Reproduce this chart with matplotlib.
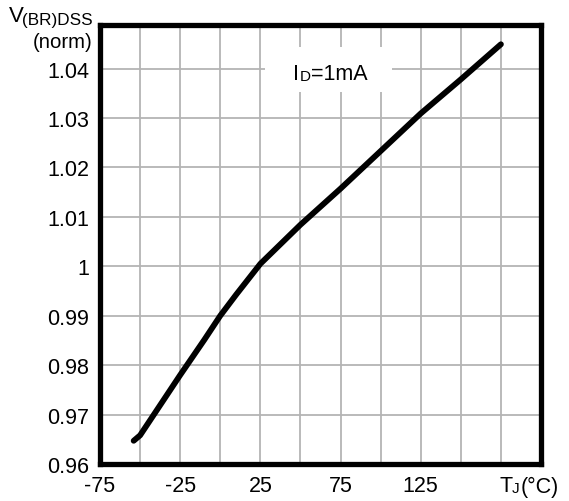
import matplotlib
matplotlib.use("Agg")
import matplotlib.pyplot as plt
from matplotlib.patches import Rectangle

plt.rcParams['font.family'] = ['Liberation Sans', 'DejaVu Sans']

# Data
temp_c = [-54, -50, -25, -10, 0, 10, 25, 50, 75, 100, 125, 150, 175]
bvdss_norm = [0.9647, 0.9658, 0.9780, 0.9851, 0.9900, 0.9943, 1.0005,
              1.0084, 1.0157, 1.0233, 1.0309, 1.0378, 1.0449]
x_major = [-75, -25, 25, 75, 125]
x_minor = [-50, 0, 50, 100, 150, 175]
y_ticks = [0.96, 0.97, 0.98, 0.99, 1.00, 1.01, 1.02, 1.03, 1.04]
y_labels = ["0.96", "0.97", "0.98", "0.99", "1", "1.01", "1.02", "1.03", "1.04"]

fig = plt.figure(figsize=(5.69, 5.02), dpi=100)
ax = fig.add_axes([100/569, 1 - 465/502, 441/569, (465 - 26)/502])

ax.set_xlim(-75, 200)
ax.set_ylim(0.96, 1.0488)

ax.set_xticks(x_major)
ax.set_xticks(x_minor, minor=True)
ax.set_xticklabels([str(v) for v in x_major], fontsize=15.5)
ax.set_yticks(y_ticks)
ax.set_yticklabels(y_labels, fontsize=15.5)
ax.tick_params(which='both', length=0, pad=8)
ax.tick_params(axis='x', pad=8)

ax.grid(True, which='both', color='#b4b4b4', linewidth=1.3, zorder=0)
ax.set_axisbelow(True)

for s in ax.spines.values():
    s.set_linewidth(3.8)
    s.set_color('black')

# white box behind the annotation
ax.add_patch(Rectangle((28.2, 1.0353), 79.0, 0.0090, facecolor='white',
                       edgecolor='none', zorder=1))

ax.plot(temp_c, bvdss_norm, color='black', linewidth=4.2,
        solid_capstyle='round', solid_joinstyle='round', zorder=3)

# annotation I_D=1mA
fig.text(293/569, 1 - 75/502, "I", fontsize=15.5, va='center', ha='left')
fig.text(300/569, 1 - 77/502, "D", fontsize=11, va='center', ha='left')
fig.text(311/569, 1 - 75/502, "=1mA", fontsize=15.5, va='center', ha='left')

# y-axis label
fig.text(9/569, 1 - 17/502, "V", fontsize=16, va='center', ha='left')
fig.text(93/569, 1 - 21/502, "(BR)DSS", fontsize=12.3, va='center', ha='right')
fig.text(93/569, 1 - 43/502, "(norm)", fontsize=14.6, va='center', ha='right')

# x-axis label
fig.text(499/569, 1 - 487/502, "T", fontsize=15.5, va='center', ha='left')
fig.text(512/569, 1 - 489/502, "J", fontsize=11, va='center', ha='left')
fig.text(521/569, 1 - 487/502, "(°C)", fontsize=15.5, va='center', ha='left')

fig.savefig("out.png", dpi=100)
